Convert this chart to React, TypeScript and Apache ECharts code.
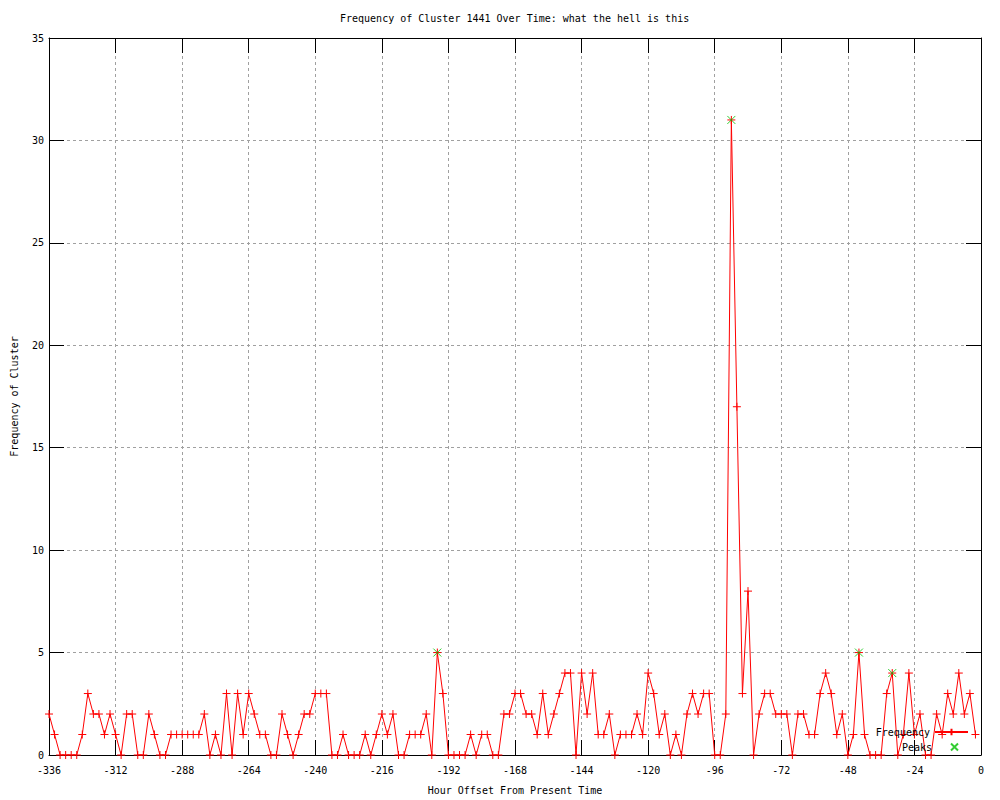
import React, { useEffect, useRef } from "react";
import * as echarts from "echarts";

const chartTitle = "Frequency of Cluster 1441 Over Time: what the hell is this";
const xAxisTitle = "Hour Offset From Present Time";
const yAxisTitle = "Frequency of Cluster";

// sampling grid: one reading every 2 hours, starting at -336
const startHour = -336;
const stepHours = 2;

// Frequency readings (rows of 12 = 24 hours)
const frequency = [
  2, 1, 0, 0, 0, 0, 1, 3, 2, 2, 1, 2,
  1, 0, 2, 2, 0, 0, 2, 1, 0, 0, 1, 1,
  1, 1, 1, 1, 2, 0, 1, 0, 3, 0, 3, 1,
  3, 2, 1, 1, 0, 0, 2, 1, 0, 1, 2, 2,
  3, 3, 3, 0, 0, 1, 0, 0, 0, 1, 0, 1,
  2, 1, 2, 0, 0, 1, 1, 1, 2, 0, 5, 3,
  0, 0, 0, 0, 1, 0, 1, 1, 0, 0, 2, 2,
  3, 3, 2, 2, 1, 3, 1, 2, 3, 4, 4, 0,
  4, 2, 4, 1, 1, 2, 0, 1, 1, 1, 2, 1,
  4, 3, 1, 2, 0, 1, 0, 2, 3, 2, 3, 3,
  0, 0, 2, 31, 17, 3, 8, 0, 2, 3, 3, 2,
  2, 2, 0, 2, 2, 1, 1, 3, 4, 3, 1, 2,
  0, 1, 5, 1, 0, 0, 0, 3, 4, 0, 1, 4,
  1, 2, 0, 0, 2, 1, 3, 2, 4, 2, 3, 1,
];

const peakHours = [-196, -90, -44, -32];
const peakValues = [5, 31, 5, 4];

const xMin = -336;
const xMax = 0;
const xInterval = 24;
const yMin = 0;
const yMax = 35;
const yInterval = 5;

const FONT = "DejaVu Sans Mono";
const PLUS = "path://M0,4L8,4M4,0L4,8";
const CROSS = "path://M0,0L8,8M8,0L0,8";

export default function App() {
  const ref = useRef<HTMLDivElement>(null);

  useEffect(() => {
    if (!ref.current) return;
    const chart = echarts.init(ref.current, undefined, { renderer: "svg" });

    const freqData = frequency.map((v, i) => [startHour + i * stepHours, v]);
    const peakData = peakHours.map((h, i) => [h, peakValues[i]]);

    const txt = { fontFamily: FONT, fontSize: 10, color: "#000" };
    const axisLine = { show: true, onZero: false, lineStyle: { color: "#000", width: 1 } };
    const tick = { show: true, inside: true, length: 15, lineStyle: { color: "#000", width: 1 } };
    const split = { show: true, lineStyle: { color: "#a0a0a0", width: 1, type: [3, 3] as any } };

    chart.setOption({
      animation: false,
      backgroundColor: "#fff",
      title: {
        text: chartTitle,
        left: 335,
        top: 8,
        textStyle: { ...txt, fontWeight: "normal" },
      },
      grid: { left: 49, top: 38, width: 932, height: 722, containLabel: false },
      legend: [
        {
          data: ["Frequency"],
          orient: "vertical",
          align: "right",
          right: 26,
          top: 722,
          itemWidth: 33,
          itemHeight: 8,
          selectedMode: false,
          textStyle: txt,
        },
        {
          data: ["Peaks"],
          orient: "vertical",
          align: "right",
          right: 36,
          top: 737,
          itemWidth: 7,
          itemHeight: 7,
          selectedMode: false,
          textStyle: { ...txt, padding: [0, 14, 0, 0] },
        },
      ],
      xAxis: [
        {
          type: "value",
          position: "bottom",
          min: xMin,
          max: xMax,
          interval: xInterval,
          axisLine,
          axisTick: tick,
          axisLabel: { ...txt, margin: 10 },
          splitLine: split,
          name: xAxisTitle,
          nameLocation: "middle",
          nameGap: 30,
          nameTextStyle: txt,
        },
        {
          type: "value",
          position: "top",
          min: xMin,
          max: xMax,
          interval: xInterval,
          axisLine,
          axisTick: tick,
          axisLabel: { show: false },
          splitLine: { show: false },
        },
      ],
      yAxis: [
        {
          type: "value",
          position: "left",
          min: yMin,
          max: yMax,
          interval: yInterval,
          axisLine,
          axisTick: tick,
          axisLabel: { ...txt, margin: 5 },
          splitLine: split,
          name: yAxisTitle,
          nameLocation: "middle",
          nameGap: 30,
          nameRotate: 90,
          nameTextStyle: txt,
        },
        {
          type: "value",
          position: "right",
          min: yMin,
          max: yMax,
          interval: yInterval,
          axisLine,
          axisTick: tick,
          axisLabel: { show: false },
          splitLine: { show: false },
        },
      ],
      series: [
        {
          name: "Frequency",
          type: "line",
          data: freqData,
          xAxisIndex: 0,
          yAxisIndex: 0,
          symbol: PLUS,
          symbolSize: 8,
          showAllSymbol: true,
          lineStyle: { color: "#ff0000", width: 1 },
          itemStyle: { color: "#ff0000", borderColor: "#ff0000", borderWidth: 1 },
          z: 2,
        },
        {
          name: "Peaks",
          type: "scatter",
          data: peakData,
          xAxisIndex: 0,
          yAxisIndex: 0,
          symbol: CROSS,
          symbolSize: 8,
          itemStyle: { color: "#00c000", borderColor: "#00c000", borderWidth: 1 },
          z: 3,
        },
      ],
    });

    return () => chart.dispose();
  }, []);

  return (
    <div
      ref={ref}
      style={{ position: "fixed", left: 0, top: 0, width: 1000, height: 800, background: "#fff" }}
    />
  );
}
